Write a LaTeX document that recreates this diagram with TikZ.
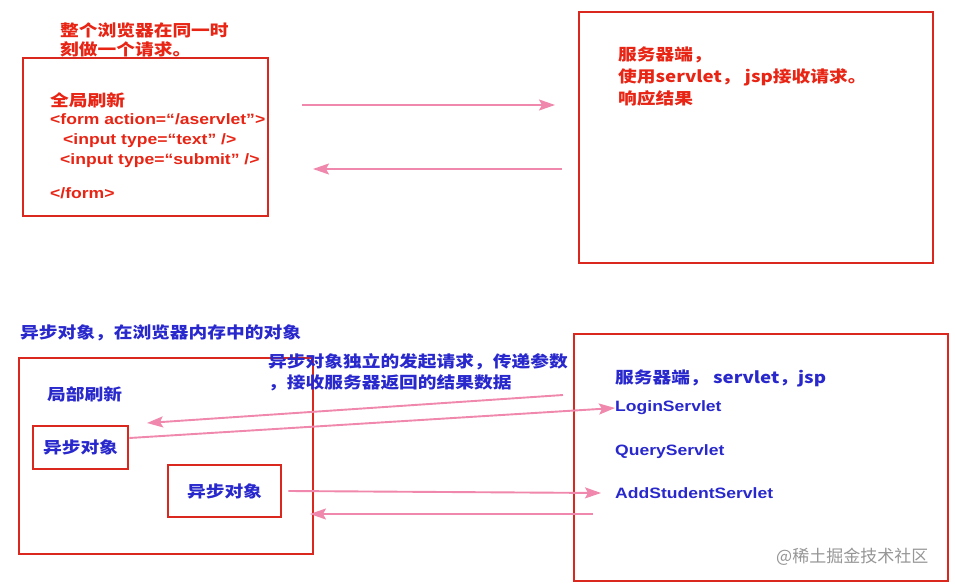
\documentclass[tikz,border=0pt]{standalone}
\usepackage{fontspec}
\setmainfont{Liberation Sans}[FakeStretch=1.17]
\newfontfamily\cjk{Noto Sans CJK SC}[FakeStretch=1.17]
\newfontfamily\cjkwm{Noto Sans CJK SC}
\usetikzlibrary{arrows.meta}
\definecolor{boxred}{RGB}{218,40,30}
\definecolor{txtred}{RGB}{232,36,20}
\definecolor{txtblue}{RGB}{40,40,205}
\definecolor{arrpink}{RGB}{240,135,172}
\definecolor{wmgray}{RGB}{150,150,150}
\tikzset{
  redbox/.style={draw=boxred, line width=2.8pt, fill=none, inner sep=0pt},
  cjkred/.style={anchor=west, inner sep=0pt, text=txtred, font=\cjk\bfseries\fontsize{16}{18}\selectfont},
  latred/.style={anchor=west, inner sep=0pt, text=txtred, font=\bfseries\fontsize{15}{17}\selectfont},
  cjkblue/.style={anchor=west, inner sep=0pt, text=txtblue, font=\cjk\bfseries\fontsize{16}{18}\selectfont},
  latblue/.style={anchor=west, inner sep=0pt, text=txtblue, font=\bfseries\fontsize{15}{17}\selectfont},
  pinkarrow/.style={draw=arrpink, line width=1.9pt, -{Stealth[length=16pt,width=11pt,inset=3pt]}}
}
\begin{document}
\begin{tikzpicture}[x=1pt,y=1pt]
\useasboundingbox[fill=white] (0,0) rectangle (955,-588);

% ---------- top part ----------
\node[cjkred] (cap1) at (60,-30) {整个浏览器在同一时};
\node[cjkred] (cap2) at (60,-49) {刻做一个请求。};

\node[redbox, minimum width=245pt, minimum height=158pt] (formbox) at (145.5,-137) {};
\node[cjkred] (qjsx) at (50,-100) {全局刷新};
\node[latred] (f1) at (50,-119) {<form action=“/aservlet”>};
\node[latred] (f2) at (63,-141) {<input type=“text” />};
\node[latred] (f3) at (60,-161) {<input type=“submit” />};
\node[latred] (f4) at (50,-193) {</form>};

\node[redbox, minimum width=354pt, minimum height=251pt] (srv1) at (756,-137.5) {};
\node[cjkred] (s1) at (618,-55) {服务器端，};
\node[cjkred] (s2) at (618,-77) {使用servlet， jsp接收请求。};
\node[cjkred] (s3) at (618,-98) {响应结果};

\coordinate (r1a) at (302,-105);
\coordinate (r1b) at (555,-105);
\coordinate (l1a) at (562,-169);
\coordinate (l1b) at (313,-169);
\draw[pinkarrow] (r1a) -- (r1b);
\draw[pinkarrow] (l1a) -- (l1b);

% ---------- bottom part ----------
\node[cjkblue] (cap3) at (20,-333) {异步对象，在浏览器内存中的对象};

\node[redbox, minimum width=294pt, minimum height=196pt] (page) at (166,-456) {};
\node[cjkblue] (jbsx) at (47,-394) {局部刷新};

\node[redbox, minimum width=95pt, minimum height=43pt, text=txtblue, font=\cjk\bfseries\fontsize{16}{18}\selectfont] (ajax1) at (80.5,-447.5) {异步对象};
\node[redbox, minimum width=113pt, minimum height=52pt, text=txtblue, font=\cjk\bfseries\fontsize{16}{18}\selectfont] (ajax2) at (224.5,-491) {异步对象};

\node[cjkblue] (note1) at (268,-362) {异步对象独立的发起请求，传递参数};
\node[cjkblue] (note2) at (268,-383) {，接收服务器返回的结果数据};

\node[redbox, minimum width=374pt, minimum height=247pt] (srv2) at (761,-457.5) {};
\node[cjkblue] (t1) at (615,-378) {服务器端， servlet，jsp};
\node[latblue] (login) at (615,-408) {LoginServlet};
\node[latblue] (query) at (615,-452) {QueryServlet};
\node[latblue] (add) at (615,-493) {AddStudentServlet};

\node[anchor=west, inner sep=0pt, text=wmgray, font=\cjkwm\fontsize{17}{19}\selectfont] (wm) at (776,-557) {@稀土掘金技术社区};

\coordinate (ra) at (563,-395);
\coordinate (rb) at (147,-423);
\draw[pinkarrow] (ra) -- (rb);
\draw[pinkarrow] (ajax1.east |- 0,-438) -- (login.west);
\draw[pinkarrow] ([xshift=6pt]ajax2.east) -- ([xshift=-14pt]add.west);
\coordinate (da) at (593,-514);
\coordinate (db) at (310,-514);
\draw[pinkarrow] (da) -- (db);
\end{tikzpicture}
\end{document}
